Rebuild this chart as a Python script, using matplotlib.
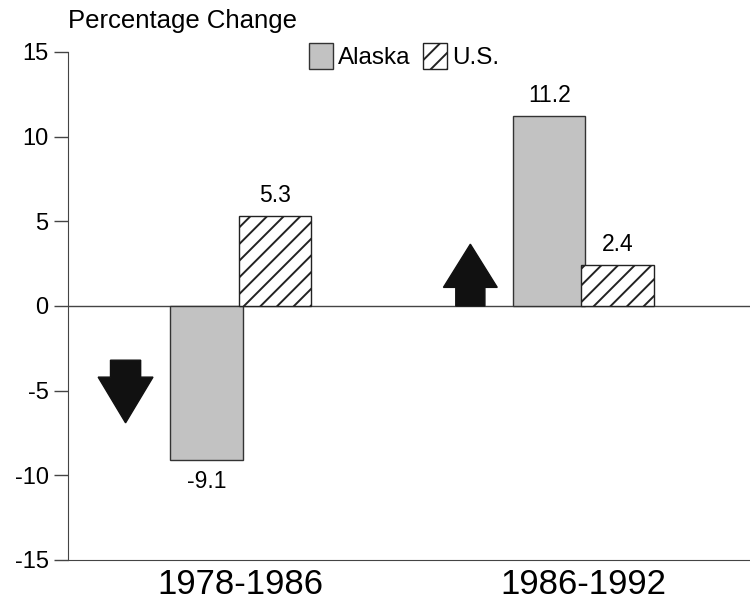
import matplotlib
matplotlib.use("Agg")
import matplotlib.pyplot as plt
from matplotlib.patches import Patch
import numpy as np

periods = ["1978-1986", "1986-1992"]
alaska = [-9.1, 11.2]
us = [5.3, 2.4]
yticks = [15, 10, 5, 0, -5, -10, -15]

plt.rcParams['font.family'] = ['Liberation Sans', 'DejaVu Sans']
plt.rcParams['hatch.linewidth'] = 1.4

fig = plt.figure(figsize=(7.5, 6.07), dpi=100)
ax = fig.add_axes([68/750, 1-560/607, 1-68/750, (560-52)/607])

x = np.arange(len(periods))
w = 0.212
off = 0.1
gray = '#c2c2c2'
ax.bar(x - off, alaska, width=w, facecolor=gray, edgecolor='#333333', linewidth=1.0, zorder=2)
ax.bar(x + off, us, width=w, facecolor='white', edgecolor='#222222', hatch='//', linewidth=1.0, zorder=2)

ax.axhline(0, color='#444444', linewidth=1.0, zorder=1)

for xi, v in zip(x - off, alaska):
    ax.annotate(f"{v:.1f}", (xi, v), xytext=(0, 7 if v > 0 else -7), textcoords='offset points',
                ha='center', va='bottom' if v > 0 else 'top', fontsize=16.5)
for xi, v in zip(x + off, us):
    ax.annotate(f"{v:.1f}", (xi, v), xytext=(0, 7), textcoords='offset points',
                ha='center', va='bottom', fontsize=16.5)

# block arrows
ax.arrow(-0.336, -3.2, 0, -1.0, width=0.088, head_width=0.16, head_length=2.7,
         length_includes_head=False, color='#111111', zorder=3)
ax.arrow(0.67, 0.0, 0, 1.1, width=0.085, head_width=0.157, head_length=2.55,
         length_includes_head=False, color='#111111', zorder=3)

ax.set_xlim(-0.504, 1.486)
ax.set_ylim(-15, 15)
ax.set_yticks(yticks)
ax.set_yticklabels([str(t) for t in yticks], fontsize=17)
ax.set_xticks(x)
ax.set_xticklabels(periods, fontsize=25)
ax.tick_params(axis='y', length=10, width=1, color='#444444', pad=4)
ax.tick_params(axis='x', length=0, pad=6)
for s in ['top', 'right']:
    ax.spines[s].set_visible(False)
ax.spines['left'].set_color('#444444')
ax.spines['bottom'].set_color('#444444')

fig.text(68/750, 1-21/607, "Percentage Change", fontsize=18.5, ha='left', va='center')

handles = [Patch(facecolor=gray, edgecolor='#333333', label='Alaska'),
           Patch(facecolor='white', edgecolor='#222222', hatch='//', label='U.S.')]
fig.legend(handles=handles, loc='center', bbox_to_anchor=(404/750, 1-56/607), ncol=2,
           frameon=False, fontsize=17.5, handlelength=1.0, handleheight=1.3,
           handletextpad=0.2, columnspacing=0.5, borderpad=0)

fig.savefig("out.png", dpi=100)
